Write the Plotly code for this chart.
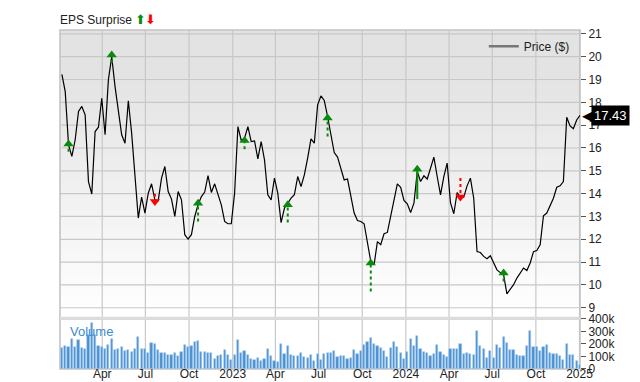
import pandas as pd
import plotly.graph_objects as go

# ---------------- data ----------------
dates = pd.date_range("2022-01-06", periods=157, freq="7D")

price = [
    19.23, 18.47, 16.14, 15.63, 16.36, 17.6, 17.82, 17.45, 14.53, 13.98,
    16.72, 16.91, 18.18, 16.58, 18.99, 20.0, 18.69, 17.67, 16.58, 16.21,
    18.07, 16.65, 14.9, 12.93, 13.85, 13.15, 14.02, 14.43, 13.73, 13.69,
    14.68, 15.19, 14.09, 13.76, 13.0, 14.09, 13.73, 12.2, 12.01, 12.2,
    13.0, 13.51, 13.87, 14.07, 14.79, 14.05, 14.43, 13.95, 13.51, 12.78,
    12.68, 12.68, 14.02, 16.94, 16.33, 16.43, 16.94, 16.28, 16.31, 15.52,
    16.28, 15.48, 13.95, 13.73, 14.68, 14.02, 12.73, 13.36, 13.61, 13.8,
    13.95, 14.75, 14.31, 14.82, 15.56, 16.4, 16.21, 17.89, 18.28,
    18.08, 17.38, 16.65, 15.8, 15.6, 15.07, 14.6, 14.64, 13.95, 13.15,
    12.82, 12.78, 12.68, 11.83, 11.03, 10.88, 11.9, 11.76, 12.24, 12.3,
    13.0, 13.7, 14.43, 14.28, 13.7, 13.55, 13.17, 13.58, 14.97, 14.53,
    14.78, 14.64, 15.12, 15.6, 14.75, 13.95, 14.75, 15.34, 13.6,
    13.12, 14.05, 13.85, 13.85, 14.34, 14.68, 13.8, 11.46, 11.42, 11.25,
    11.15, 11.28, 10.96, 10.66, 10.54, 10.44, 9.61, 9.82, 10.01, 10.3,
    10.54, 10.74, 10.63, 10.96, 11.46, 11.51, 11.76, 13.03, 13.15, 13.47,
    13.8, 14.28, 14.34, 14.53, 17.35, 16.97, 16.84, 17.23, 17.43,
]

volume_k = [
    170, 188, 180, 238, 174, 230, 170, 164, 270, 370,
    276, 188, 174, 164, 190, 238, 156, 161, 180, 146,
    156, 138, 161, 258, 164, 163, 128, 208, 200, 155,
    128, 128, 115, 109, 125, 101, 139, 189, 179, 181,
    216, 221, 136, 136, 125, 128, 77, 107, 112, 155,
    109, 69, 109, 232, 125, 141, 115, 83, 75, 88,
    61, 83, 160, 101, 64, 56, 203, 117, 181, 109,
    107, 107, 128, 96, 91, 112, 64, 117, 75,
    117, 128, 128, 141, 96, 101, 101, 83, 85, 149,
    117, 141, 189, 216, 248, 197, 184, 168, 141, 96,
    168, 216, 173, 131, 77, 136, 237, 187, 264, 157,
    136, 131, 104, 120, 189, 136, 109, 96, 163, 163,
    163, 197, 123, 128, 123, 109, 304, 184, 160, 91,
    141, 85, 195, 168, 256, 211, 149, 149, 115, 104,
    107, 187, 301, 176, 179, 141, 173, 189, 131, 120,
    123, 104, 69, 200, 115, 109, 64, 29,
]

eps_dates = ["2022-01-20", "2022-04-21", "2022-07-21", "2022-10-20", "2023-01-26",
             "2023-04-27", "2023-07-20", "2023-10-19", "2024-01-25", "2024-04-25",
             "2024-07-25"]
eps_tip = [16.18, 20.08, 13.65, 13.58, 16.33, 13.51, 17.31, 10.96, 15.07, 13.85, 10.52]
eps_tail = [15.83, 19.72, 14.0, 12.78, 15.95, 12.73, 16.5, 9.71, 13.76, 14.68, 10.15]
eps_dir = ["up", "up", "down", "up", "up", "up", "up", "up", "up", "down", "up"]

x_tick_dates = ["2022-04-01", "2022-07-01", "2022-10-01", "2023-01-01",
                "2023-04-01", "2023-07-01", "2023-10-01", "2024-01-01",
                "2024-04-01", "2024-07-01", "2024-10-01", "2025-01-01"]
x_tick_text = ["Apr", "Jul", "Oct", "2023", "Apr", "Jul", "Oct", "2024",
               "Apr", "Jul", "Oct", "2025"]
price_ticks = list(range(9, 22))
vol_tick_vals = [0, 100000, 200000, 300000, 400000]
vol_tick_text = ["0", "100k", "200k", "300k", "400k"]
last_price = 17.43

# ---------------- styling ----------------
FONT = "Liberation Sans, Arial, sans-serif"
GRID = "#c8c8c8"
BORDER = "#c4c4c4"
GREEN = "#0a8a0a"
RED = "#ff0000"
SOLID_SHAFT = {"2024-01-25"}
PRICE_DOM = [0.1504, 1.0]
VOL_DOM = [0.0, 0.1475]
X_RANGE = ["2022-01-02", "2025-01-02"]
Y_PRICE_RANGE = [8.55, 21.17]

fig = go.Figure()

# volume bars
fig.add_trace(go.Bar(
    x=dates, y=[v * 1000 for v in volume_k], xaxis="x", yaxis="y",
    marker=dict(color="#4a90d2", line=dict(width=0.6, color="#a8cdee")),
    width=4.6 * 86400000, showlegend=False, hoverinfo="skip",
))

# price line
fig.add_trace(go.Scatter(
    x=dates, y=price, xaxis="x2", yaxis="y2", mode="lines",
    line=dict(color="#000000", width=1.2), showlegend=False,
))

# legend entry (gray sample)
fig.add_trace(go.Scatter(
    x=[None], y=[None], xaxis="x2", yaxis="y2", mode="lines",
    line=dict(color="#777777", width=2.5), name="Price ($)", showlegend=True,
))

# EPS surprise arrows
for d, tip, tail, direc in zip(eps_dates, eps_tip, eps_tail, eps_dir):
    col = GREEN if direc == "up" else RED
    dash = "solid" if d in SOLID_SHAFT else "dot"
    fig.add_trace(go.Scatter(
        x=[d, d], y=[tail, tip], xaxis="x2", yaxis="y2", mode="lines",
        line=dict(color=col, width=2, dash=dash), showlegend=False,
        hoverinfo="skip",
    ))
    fig.add_trace(go.Scatter(
        x=[d], y=[tip], xaxis="x2", yaxis="y2", mode="markers",
        marker=dict(symbol="triangle-up" if direc == "up" else "triangle-down",
                    size=9, color=col, line=dict(width=0)),
        showlegend=False, hoverinfo="skip",
    ))

shapes = []
# gradient background for price panel
N = 48
top_c, bot_c = 227, 255
for i in range(N):
    y0 = i / N
    y1 = min(1.0, (i + 1) / N + 0.004)
    frac = (i + 0.5) / N  # 0 bottom -> 1 top
    t = min(1.0, frac / 0.85)
    c = round(bot_c - (bot_c - top_c) * t)
    shapes.append(dict(type="rect", xref="x2 domain", yref="y2 domain",
                       x0=0, x1=1, y0=y0, y1=y1, layer="below",
                       fillcolor=f"rgb({c},{c},{c})", line=dict(width=0)))

# gridlines (drawn above the gradient, below the traces)
for p in price_ticks:
    shapes.append(dict(type="line", xref="x2 domain", yref="y2", x0=0, x1=1,
                       y0=p, y1=p, layer="below", line=dict(color=GRID, width=1.2)))
for d in x_tick_dates:
    for xr, yr in (("x2", "y2 domain"), ("x", "y domain")):
        shapes.append(dict(type="line", xref=xr, yref=yr, x0=d, x1=d, y0=0, y1=1,
                           layer="below", line=dict(color=GRID, width=1.2)))

# panel borders
for xr, yr in (("x2 domain", "y2 domain"), ("x domain", "y domain")):
    shapes.append(dict(type="rect", xref=xr, yref=yr, x0=0, x1=1, y0=0, y1=1,
                       layer="below", line=dict(color=BORDER, width=1.6)))

# separator band between panels
shapes.append(dict(type="line", xref="paper", yref="paper", x0=0, x1=1,
                   y0=0.1495, y1=0.1495, line=dict(color="#dcdcdc", width=3),
                   layer="below"))

annotations = [
    dict(text="EPS Surprise", xref="paper", yref="paper", x=0, y=1,
         xanchor="left", yanchor="bottom", xshift=-2, yshift=1, showarrow=False,
         font=dict(family=FONT, size=12, color="#222222")),
    dict(text="\u2b06", xref="paper", yref="paper", x=0, y=1, xanchor="left",
         yanchor="bottom", xshift=73, yshift=1, showarrow=False,
         font=dict(family="DejaVu Sans", size=13, color=GREEN)),
    dict(text="\u2b07", xref="paper", yref="paper", x=0, y=1, xanchor="left",
         yanchor="bottom", xshift=83, yshift=1, showarrow=False,
         font=dict(family="DejaVu Sans", size=13, color=RED)),
    dict(text="Volume", xref="paper", yref="paper", x=0, y=VOL_DOM[1],
         xanchor="left", yanchor="top", xshift=8, yshift=-3, showarrow=False,
         font=dict(family=FONT, size=13, color="#3a8ad0")),
    dict(text="\u25c0", xref="paper", yref="y2", x=1, y=last_price,
         xanchor="left", yanchor="middle", xshift=0, showarrow=False,
         font=dict(family="DejaVu Sans", size=16, color="#000000")),
    dict(text=f"{last_price:.2f}", xref="paper", yref="y2", x=1, y=last_price,
         xanchor="left", yanchor="middle", xshift=11, showarrow=False,
         bgcolor="#000000", borderpad=2,
         font=dict(family=FONT, size=13, color="#ffffff")),
]

axis_common = dict(showline=False, zeroline=False, automargin=False, showgrid=False)

fig.update_layout(
    template="none",
    width=640, height=382,
    margin=dict(l=60, r=60, t=30, b=13, autoexpand=False),
    paper_bgcolor="#ffffff", plot_bgcolor="rgba(0,0,0,0)",
    font=dict(family=FONT, size=12, color="#333333"),
    bargap=0,
    shapes=shapes, annotations=annotations,
    showlegend=True,
    legend=dict(x=0.99, y=0.995, xanchor="right", yanchor="top",
                bgcolor="rgba(0,0,0,0)", itemwidth=30,
                font=dict(family=FONT, size=12, color="#222222")),
    xaxis=dict(domain=[0, 1], anchor="y", type="date", range=X_RANGE,
               tickvals=x_tick_dates, ticktext=x_tick_text, ticks="",
               ticklabelstandoff=-4,
               tickfont=dict(family=FONT, size=12, color="#222222"),
               **axis_common),
    xaxis2=dict(domain=[0, 1], anchor="y2", type="date", range=X_RANGE,
                tickvals=x_tick_dates, showticklabels=False, ticks="",
                **axis_common),
    yaxis=dict(domain=VOL_DOM, anchor="x", side="right", range=[0, 400000],
               tickvals=vol_tick_vals, ticktext=vol_tick_text,
               ticks="outside", ticklen=5, tickcolor="#555555",
               tickfont=dict(family=FONT, size=12, color="#222222"),
               **axis_common),
    yaxis2=dict(domain=PRICE_DOM, anchor="x2", side="right", range=Y_PRICE_RANGE,
                tickvals=price_ticks,
                ticks="outside", ticklen=5, tickcolor="#555555",
                tickfont=dict(family=FONT, size=12, color="#222222"),
                **axis_common),
)

fig.write_html("out.html",
               config={"displayModeBar": False},
               post_script="document.body.style.margin='0px';"
                           "document.body.style.overflow='hidden';")
